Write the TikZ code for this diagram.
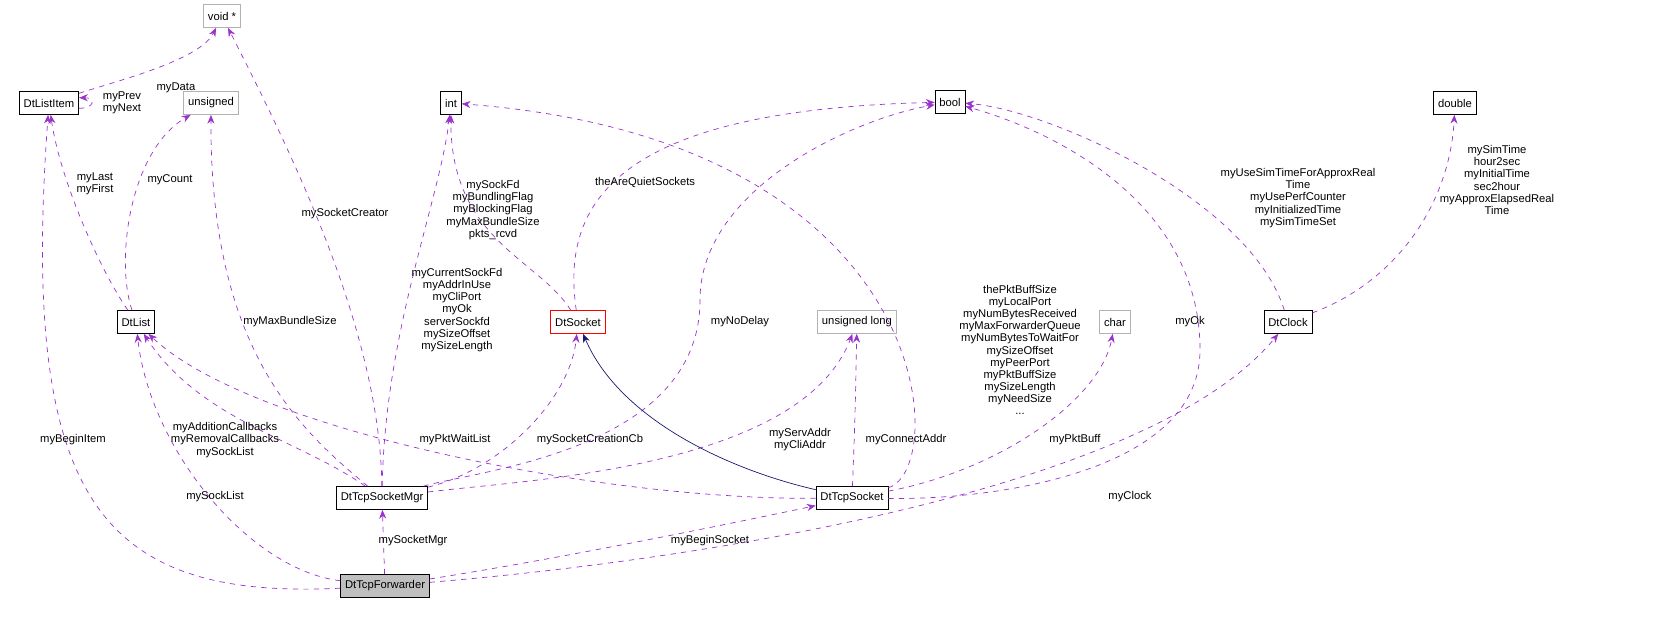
\documentclass[tikz,border=0pt]{standalone}
\usepackage{fontspec}
\setmainfont{Liberation Sans}
\usetikzlibrary{arrows.meta}
\definecolor{edgepurple}{RGB}{154,50,205}
\definecolor{inhblue}{RGB}{25,25,112}

\begin{document}
\begin{tikzpicture}[x=0.02cm, y=-0.02cm,
    cls/.style={draw, rectangle, inner sep=2.5pt, minimum height=0.46cm, font=\fontsize{6.4}{7}\selectfont},
    ext/.style={cls, draw=black!30},
    dep/.style={dashed, draw=edgepurple, -{Stealth[length=5pt, width=4pt]}},
    inh/.style={draw=inhblue, -{Stealth[length=5pt, width=4pt]}},
    lbl/.style={align=center, font=\fontsize{6.4}{6.9}\selectfont, inner sep=0pt}]
    \useasboundingbox (0,0) rectangle (1663,640);

    % Classes
    \node[ext] (voidptr) at (222,16) {void *};
    \node[cls] (item) at (49,103) {DtListItem};
    \node[ext] (unsig) at (211,103) {unsigned};
    \node[cls] (int) at (451,103) {int};
    \node[cls] (bool) at (950,102) {bool};
    \node[cls] (double) at (1455,103) {double};
    \node[cls] (list) at (136,322) {DtList};
    \node[cls, draw=red] (socket) at (578,322) {DtSocket};
    \node[ext] (ulong) at (857,322) {unsigned long};
    \node[ext] (char) at (1115,322) {char};
    \node[cls] (clock) at (1288,322) {DtClock};
    \node[cls] (mgr) at (382,498) {DtTcpSocketMgr};
    \node[cls] (tcpsock) at (852,498) {DtTcpSocket};
    \node[cls, fill=black!25] (fwd) at (385,586) {DtTcpForwarder};

    % Members
    \draw[dep] (item) .. controls (120,80) and (200,60) .. (voidptr);
    \node[lbl] at (176,88) {myData};
    \draw[dep] ([yshift=-3pt]item.east) to[out=0, in=0, looseness=4] ([yshift=3pt]item.east);
    \node[lbl] at (122,103) {myPrev\\myNext};
    \draw[dep] (list) .. controls (100,270) and (60,180) .. (item);
    \node[lbl] at (95,184) {myLast\\myFirst};
    \draw[dep] (list) .. controls (115,260) and (130,150) .. (unsig);
    \node[lbl] at (170,180) {myCount};
    \draw[dep] (socket) .. controls (540,260) and (450,240) .. (int);
    \node[lbl] at (493,210) {mySockFd\\myBundlingFlag\\myBlockingFlag\\myMaxBundleSize\\pkts\_rcvd};
    \draw[dep] (socket) .. controls (560,200) and (620,110) .. (bool);
    \node[lbl] at (645,182) {theAreQuietSockets};
    \draw[dep] (mgr) .. controls (380,330) and (290,150) .. (voidptr);
    \node[lbl] at (345,214) {mySocketCreator};
    \draw[dep] (mgr) .. controls (300,430) and (210,350) .. (unsig);
    \node[lbl] at (290,322) {myMaxBundleSize};
    \draw[dep] (mgr) .. controls (385,330) and (440,200) .. (int);
    \node[lbl] at (457,310) {myCurrentSockFd\\myAddrInUse\\myCliPort\\myOk\\serverSockfd\\mySizeOffset\\mySizeLength};
    \draw[dep] (mgr) .. controls (500,470) and (570,400) .. (socket);
    \node[lbl] at (590,440) {mySocketCreationCb};
    \draw[dep] (mgr) .. controls (480,470) and (700,450) .. (700,300) .. controls (700,190) and (850,120) .. (bool);
    \node[lbl] at (740,322) {myNoDelay};
    \draw[dep] (mgr) .. controls (520,480) and (800,470) .. (ulong);
    \node[lbl] at (800,440) {myServAddr\\myCliAddr};
    \draw[dep] (mgr) .. controls (300,440) and (200,420) .. (list);
    \node[lbl] at (225,440) {myAdditionCallbacks\\myRemovalCallbacks\\mySockList};
    \draw[dep] (tcpsock) .. controls (600,500) and (250,430) .. (list);
    \node[lbl] at (455,440) {myPktWaitList};
    \draw[dep] (tcpsock) .. controls (950,470) and (940,140) .. (int);
    \node[lbl] at (1020,350) {thePktBuffSize\\myLocalPort\\myNumBytesReceived\\myMaxForwarderQueue\\myNumBytesToWaitFor\\mySizeOffset\\myPeerPort\\myPktBuffSize\\mySizeLength\\myNeedSize\\...};
    \draw[dep] (tcpsock) .. controls (855,420) .. (ulong);
    \node[lbl] at (906,440) {myConnectAddr};
    \draw[dep] (tcpsock) .. controls (1000,470) and (1100,400) .. (char);
    \node[lbl] at (1075,440) {myPktBuff};
    \draw[dep] (tcpsock) .. controls (1000,500) and (1200,470) .. (1200,350) .. controls (1200,200) and (1050,130) .. (bool);
    \node[lbl] at (1190,322) {myOk};
    \draw[inh] (tcpsock) .. controls (730,470) and (620,420) .. (socket);
    \draw[dep] (clock) .. controls (1250,200) and (1050,110) .. (bool);
    \node[lbl] at (1298,198) {myUseSimTimeForApproxReal\\Time\\myUsePerfCounter\\myInitializedTime\\mySimTimeSet};
    \draw[dep] (clock) .. controls (1400,280) and (1450,200) .. (double);
    \node[lbl] at (1497,180) {mySimTime\\hour2sec\\myInitialTime\\sec2hour\\myApproxElapsedReal\\Time};
    \draw[dep] (fwd) .. controls (100,600) and (20,500) .. (item);
    \node[lbl] at (73,440) {myBeginItem};
    \draw[dep] (fwd) .. controls (250,570) and (150,450) .. (list);
    \node[lbl] at (215,497) {mySockList};
    \draw[dep] (fwd) -- (mgr);
    \node[lbl] at (413,541) {mySocketMgr};
    \draw[dep] (fwd) .. controls (550,560) and (700,530) .. (tcpsock);
    \node[lbl] at (710,541) {myBeginSocket};
    \draw[dep] (fwd) .. controls (700,560) and (1150,490) .. (clock);
    \node[lbl] at (1130,497) {myClock};
\end{tikzpicture}
\end{document}
